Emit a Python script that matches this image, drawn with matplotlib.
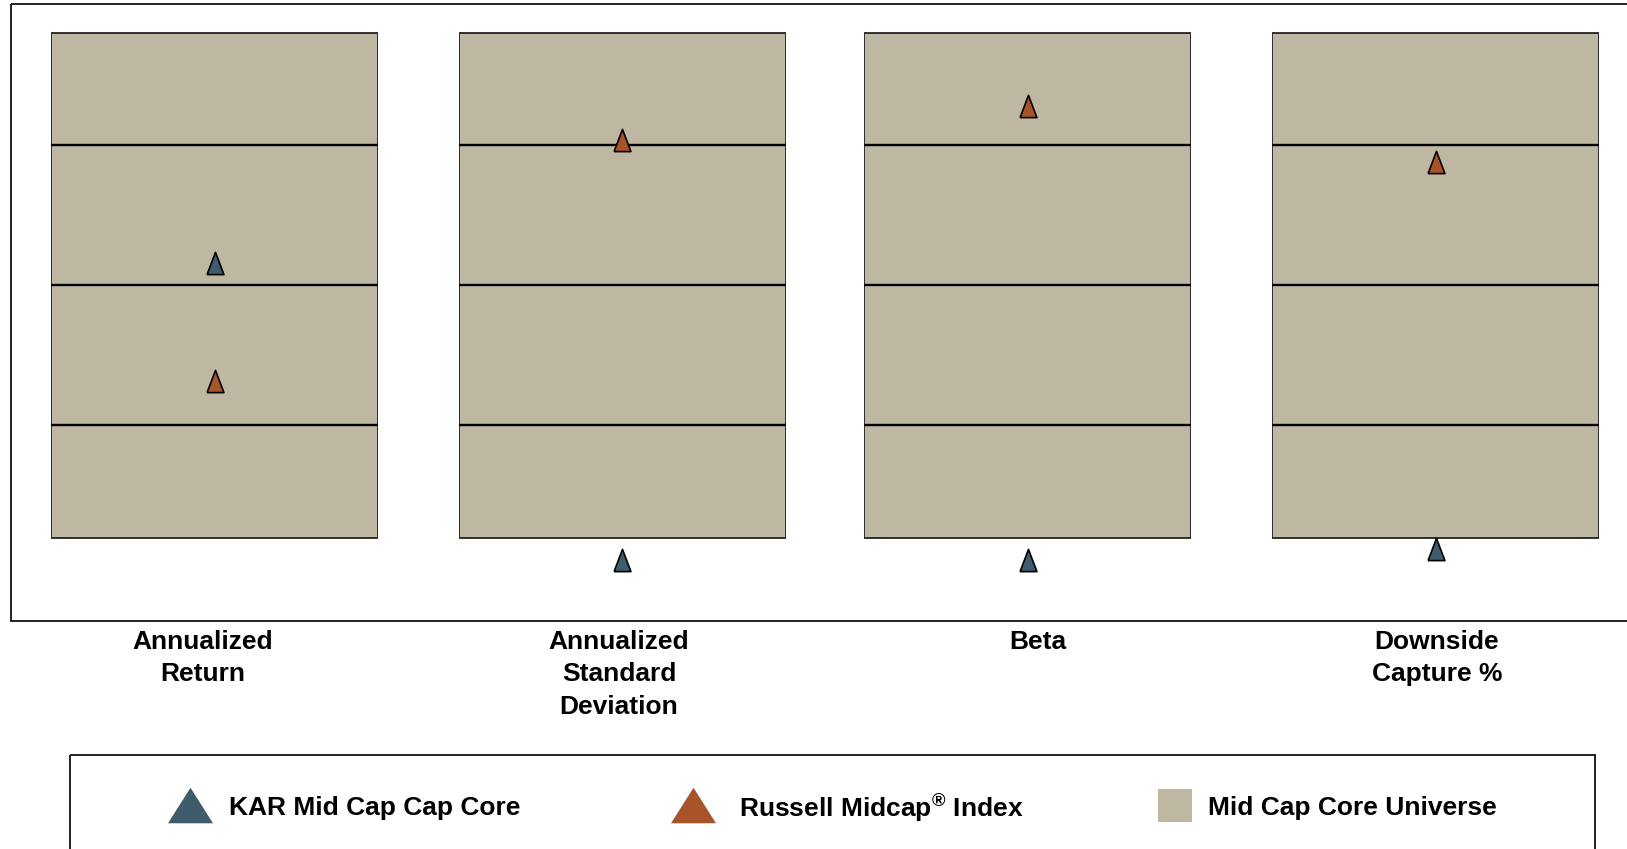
import matplotlib
matplotlib.use("Agg")
import matplotlib.pyplot as plt
from matplotlib.patches import Rectangle

plt.rcParams["font.family"] = ["Liberation Sans", "DejaVu Sans"]
plt.rcParams["mathtext.fontset"] = "custom"
plt.rcParams["mathtext.rm"] = "Liberation Sans:bold"
plt.rcParams["mathtext.bf"] = "Liberation Sans:bold"

# percentile ranks (0 = best, 100 = worst)
metrics = ["Annualized\nReturn", "Annualized\nStandard\nDeviation", "Beta", "Downside\nCapture %"]
universe_pcts = [5, 25, 50, 75, 95]
kar_rank = [46, 99, 99, 97]
russell_rank = [67, 24, 18, 28]

series_names = ["KAR Mid Cap Cap Core", "Russell Midcap$^{®}$ Index", "Mid Cap Core Universe"]

KAR_COLOR = "#3E5C6C"
RUSSELL_COLOR = "#A9532A"
TAN = "#BEB8A3"

W, H = 1627, 849
fig = plt.figure(figsize=(W / 100, H / 100), dpi=100)

# narrow upward triangle used in the panels, wider one in the legend
tri_tall = [(-0.76, -1), (0.76, -1), (0, 1), (-0.76, -1)]
tri_wide = [(-1, -0.79), (1, -0.79), (0, 0.79), (-1, -0.79)]

box_left = [51, 458.6, 864.3, 1272]
box_w = 327
top_px, bot_px = 4.97, 565.6   # pixel rows for rank 0 and rank 100
label_x = [203, 619, 1038, 1437]

for i, name in enumerate(metrics):
    ax = fig.add_axes([box_left[i] / W, 1 - bot_px / H, box_w / W, (bot_px - top_px) / H])
    ax.set_xlim(-0.5, 0.5)
    ax.set_ylim(100, 0)
    ax.axis("off")
    ax.bar(0, universe_pcts[-1] - universe_pcts[0], bottom=universe_pcts[0], width=1,
           color=TAN, edgecolor="#222222", linewidth=1.3)
    ax.hlines(universe_pcts[1:-1], -0.5, 0.5, color="black", linewidth=1.7)
    ax.plot(0, russell_rank[i], marker=tri_tall, ms=16, mfc=RUSSELL_COLOR, mec="black",
            mew=1.2, clip_on=False, zorder=5)
    ax.plot(0, kar_rank[i], marker=tri_tall, ms=16, mfc=KAR_COLOR, mec="black",
            mew=1.2, clip_on=False, zorder=5)
    fig.text(label_x[i] / W, 1 - 630 / H, name, ha="center", va="top",
             fontsize=19, fontweight="bold", linespacing=1.44, multialignment="center")

# overlay for the frames and the legend
lax = fig.add_axes([0, 0, 1, 1])
lax.set_xlim(0, W)
lax.set_ylim(H, 0)
lax.axis("off")
lax.patch.set_alpha(0)
lax.add_patch(Rectangle((11, 4), W + 20, 617, fill=False, edgecolor="#111111", linewidth=1.3))
lax.add_patch(Rectangle((70.5, 755.4), 1595 - 70.5, 120, fill=False, edgecolor="#111111", linewidth=1.3))

leg_y = 805
lax.plot(190, leg_y, marker=tri_wide, ms=32.4, mfc=KAR_COLOR, mec="none", linestyle="none")
lax.plot(693, leg_y, marker=tri_wide, ms=32.4, mfc=RUSSELL_COLOR, mec="none", linestyle="none")
lax.add_patch(Rectangle((1158.3, 789.3), 34, 32.4, facecolor=TAN, edgecolor="none"))
for x, txt in zip([229, 739, 1208], series_names):
    lax.text(x, leg_y + 3, txt, ha="left", va="center", fontsize=19, fontweight="bold")

fig.savefig("out.png", dpi=100)
